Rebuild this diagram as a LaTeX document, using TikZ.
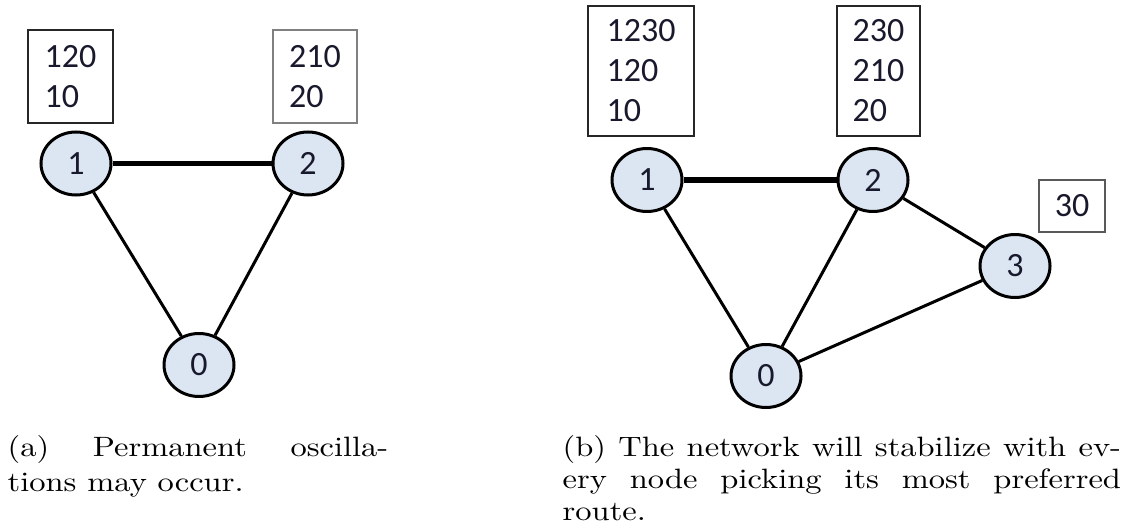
\documentclass[tikz,border=0pt]{standalone}
\usepackage{graphicx}
\usepackage{fontspec}
\newfontfamily\carlito{Carlito}
\usetikzlibrary{shapes.geometric}
\definecolor{nodefill}{RGB}{220,230,242}
\definecolor{digitcol}{RGB}{25,25,45}
\begin{document}
\begin{tikzpicture}[x=1pt,y=-1pt,
  router/.style={ellipse, draw=black, line width=3pt, fill=nodefill,
    minimum width=70pt, minimum height=63pt, inner sep=0pt,
    font=\carlito\fontsize{34}{40}\selectfont, text=digitcol},
  rtable/.style={draw=black!85, line width=1.6pt, anchor=north west,
    inner sep=0pt, align=left,
    font=\carlito\fontsize{34}{40}\selectfont, text=digitcol},
  link/.style={line width=3pt},
  mainlink/.style={line width=5.5pt},
  caption/.style={anchor=base west, inner sep=0pt}]
\useasboundingbox (0,0) rectangle (1126,527);

% ---- (a) three-node network ----
\node[router] (a1) at (76,163.5) {1};
\node[router] (a2) at (308,163.5) {2};
\node[router] (a0) at (199,365) {0};
\draw[mainlink] (a1) -- (a2);
\draw[link] (a1) -- (a0);
\draw[link] (a2) -- (a0);

\node[rtable, minimum width=85.4pt, minimum height=93.4pt] (ta1) at (27,29) {120\\10};
\node[rtable, draw=black!50, minimum width=84.4pt, minimum height=93.4pt] (ta2) at (272,29) {210\\20};

% ---- (b) four-node network ----
\node[router] (b1) at (647,180) {1};
\node[router] (b2) at (873,180) {2};
\node[router] (b3) at (1015,266) {3};
\node[router] (b0) at (766,376) {0};
\draw[mainlink] (b1) -- (b2);
\draw[link] (b1) -- (b0);
\draw[link] (b2) -- (b0);
\draw[link] (b2) -- (b3);
\draw[link] (b3) -- (b0);

\node[rtable, minimum width=106.4pt, minimum height=130.4pt] (tb1) at (587,5) {1230\\120\\10};
\node[rtable, minimum width=83.4pt, minimum height=130.4pt] (tb2) at (836,5) {230\\210\\20};
\node[rtable, draw=black!65, minimum width=66.4pt, minimum height=52.4pt] (tb3) at (1038,179) {30};

% ---- captions ----
\node[caption] (capa) at (7.5,456.7) {\scalebox{3.25}[2.8]{\parbox[t]{117.1pt}{\fontsize{10}{12.5}\selectfont
  \makebox[117.1pt][s]{(a) Permanent oscilla-}\\tions may occur.}}};
\node[caption] (capb) at (562.5,456) {\scalebox{3.25}[2.8]{\parbox[t]{171.8pt}{\fontsize{10}{11.5}\selectfont
  \makebox[171.8pt][s]{(b) The network will stabilize with ev-}\\
  \makebox[171.8pt][s]{ery node picking its most preferred}\\route.}}};
\end{tikzpicture}
\end{document}
